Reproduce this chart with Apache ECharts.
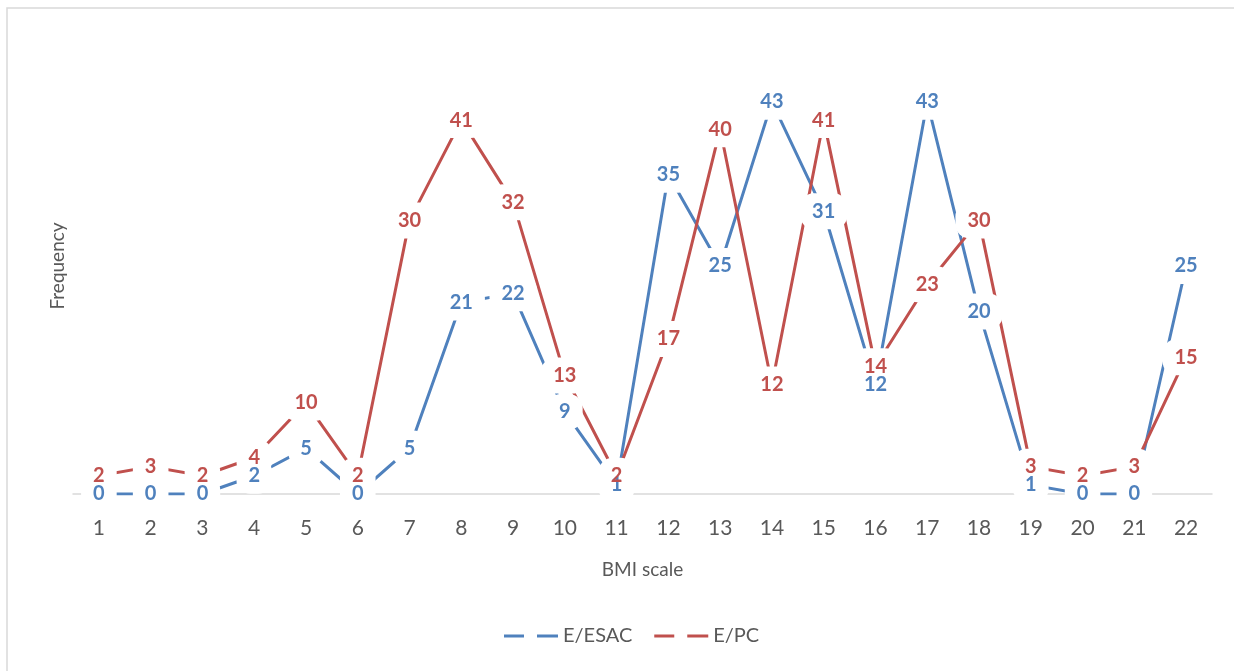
<!DOCTYPE html>
<html>
<head>
<meta charset="utf-8">
<script src="https://cdn.jsdelivr.net/npm/echarts@6/dist/echarts.min.js"></script>
<style>
  html, body { margin: 0; padding: 0; background: #ffffff; }
  #chart { width: 1234px; height: 671px; }
</style>
</head>
<body>
<div id="chart"></div>
<script>
// BMI scale categories and frequency counts per group
const categories = ['1','2','3','4','5','6','7','8','9','10','11','12','13','14','15','16','17','18','19','20','21','22'];
const esacValues = [0, 0, 0, 2, 5, 0, 5, 21, 22, 9, 1, 35, 25, 43, 31, 12, 43, 20, 1, 0, 0, 25];
const pcValues   = [2, 3, 2, 4, 10, 2, 30, 41, 32, 13, 2, 17, 40, 12, 41, 14, 23, 30, 3, 2, 3, 15];
const seriesNames = ['E/ESAC', 'E/PC'];

const BLUE = '#4F81BD';
const RED = '#C0504D';
const TEXT = '#595959';
const FONT = 'Lato, "Open Sans", sans-serif';

const labelFont = {
  fontFamily: FONT,
  fontWeight: 'bold',
  fontSize: 20,
  lineHeight: 22
};

// The line itself, with white boxes behind each value that break the line
function lineSeries(name, values, color) {
  return {
    name: name,
    type: 'line',
    z: 2,
    data: values,
    symbol: 'circle',
    symbolSize: 0,
    showSymbol: true,
    lineStyle: { color: color, width: 3, cap: 'butt' },
    itemStyle: { color: color },
    label: Object.assign({
      show: true,
      position: 'inside',
      color: 'rgba(0,0,0,0)',
      backgroundColor: '#ffffff',
      padding: [7, 12],
      borderRadius: 14
    }, labelFont),
    emphasis: { disabled: true },
    animation: false
  };
}

// Value text drawn above every box so overlapping labels stay readable
function valueTextSeries(name, values, color) {
  return {
    name: name,
    type: 'line',
    z: 3,
    data: values,
    symbol: 'circle',
    symbolSize: 0,
    showSymbol: true,
    lineStyle: { width: 0, opacity: 0 },
    itemStyle: { color: color },
    label: Object.assign({
      show: true,
      position: 'inside',
      color: color
    }, labelFont),
    emphasis: { disabled: true },
    animation: false
  };
}

const chart = echarts.init(document.getElementById('chart'), null, { renderer: 'canvas' });
chart.setOption({
  backgroundColor: '#ffffff',
  animation: false,
  graphic: [{
    type: 'rect',
    shape: { x: 7, y: 8, width: 1300, height: 700 },
    style: { fill: 'none', stroke: '#d9d9d9', lineWidth: 1.5 },
    silent: true,
    z: -1
  }],
  grid: { left: 73, right: 22, top: 38, bottom: 177, containLabel: false },
  legend: {
    data: seriesNames.map(function (n) {
      return { name: n, icon: 'path://M0,0h20v3h-20z M33,0h21v3h-21z' };
    }),
    bottom: 20,
    left: 499,
    itemWidth: 54,
    itemHeight: 3,
    itemGap: 22,
    textStyle: { color: TEXT, fontFamily: FONT, fontSize: 20 }
  },
  xAxis: {
    type: 'category',
    data: categories,
    boundaryGap: true,
    name: 'BMI scale',
    nameLocation: 'middle',
    nameGap: 66,
    nameTextStyle: { color: TEXT, fontFamily: FONT, fontSize: 19 },
    axisLine: { show: true, lineStyle: { color: '#d9d9d9', width: 1.5 } },
    axisTick: { show: false },
    axisLabel: { color: TEXT, fontFamily: FONT, fontSize: 21, margin: 24 },
    splitLine: { show: false }
  },
  yAxis: {
    type: 'value',
    min: 0,
    max: 50,
    interval: 10,
    name: 'Frequency',
    nameLocation: 'middle',
    nameGap: 6,
    nameRotate: 90,
    nameTextStyle: { color: TEXT, fontFamily: FONT, fontSize: 19 },
    axisLine: { show: false },
    axisTick: { show: false },
    axisLabel: { show: false },
    splitLine: { show: false }
  },
  series: [
    lineSeries(seriesNames[0], esacValues, BLUE),
    lineSeries(seriesNames[1], pcValues, RED),
    valueTextSeries(seriesNames[0], esacValues, BLUE),
    valueTextSeries(seriesNames[1], pcValues, RED)
  ]
});
</script>
</body>
</html>
